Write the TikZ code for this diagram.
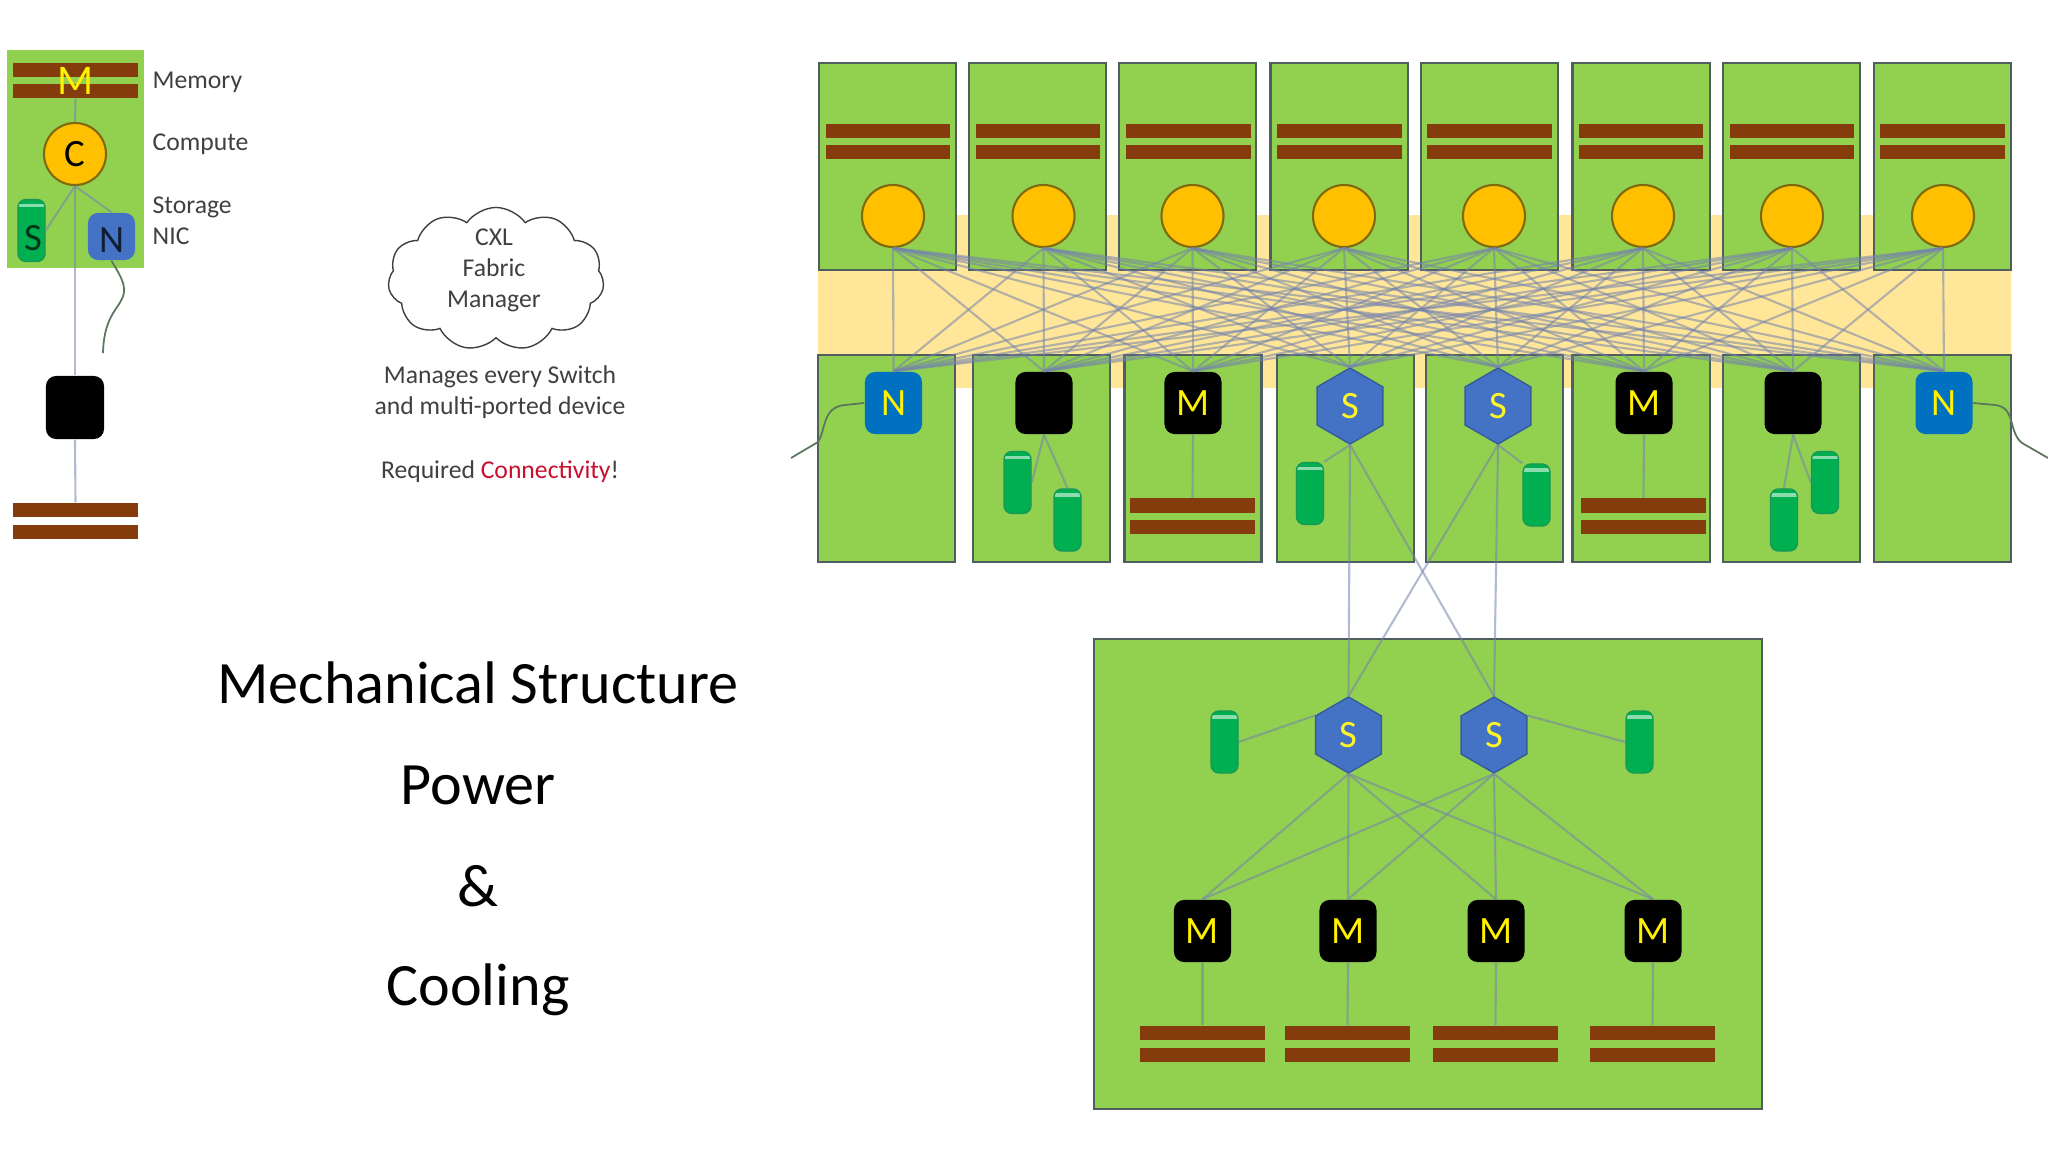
\documentclass[tikz,border=0pt]{standalone}
\usepackage{fontspec}
\setmainfont{Carlito}
\usetikzlibrary{shapes.geometric,shapes.symbols}
\definecolor{rackgreen}{HTML}{92D050}
\definecolor{rackedge}{HTML}{4F5F60}
\definecolor{fabricband}{HTML}{FFE699}
\definecolor{membrown}{HTML}{843C0C}
\definecolor{cpuorange}{HTML}{FFC000}
\definecolor{cpuedge}{HTML}{7F6A10}
\definecolor{switchblue}{HTML}{4472C4}
\definecolor{nicblue}{HTML}{0070C0}
\definecolor{diskgreen}{HTML}{00B050}
\definecolor{linkblue}{HTML}{7483AE}
\definecolor{textgray}{HTML}{404040}
\definecolor{connred}{HTML}{C8102E}

\begin{document}
\begin{tikzpicture}[
  x=0.01cm, y=-0.01cm,
  rack/.style={draw=rackedge, fill=rackgreen, line width=0.6pt, inner sep=0pt,
               minimum width=1.37cm, minimum height=2.07cm},
  membar/.style={fill=membrown, inner sep=0pt, minimum width=1.24cm, minimum height=0.14cm},
  cpu/.style={circle, draw=cpuedge, fill=cpuorange, line width=0.6pt, inner sep=0pt,
              minimum size=0.62cm, font=\fontsize{11}{11}\selectfont},
  chip/.style={draw=none, rounded corners=1mm, inner sep=0pt, minimum width=0.57cm,
               minimum height=0.62cm, text=yellow, font=\fontsize{11}{11}\selectfont},
  memchip/.style={chip, fill=black},
  nicchip/.style={chip, fill=nicblue},
  switch/.style={regular polygon, regular polygon sides=6, shape border rotate=30,
                 draw=switchblue!80!black, fill=switchblue, inner sep=0pt, minimum size=0.76cm,
                 text=yellow!85!white, font=\fontsize{11}{11}\selectfont},
  disk/.style={rounded corners=0.8mm, draw=diskgreen!70!rackedge, fill=diskgreen, inner sep=0pt,
               minimum width=0.27cm, minimum height=0.62cm,
               path picture={\draw[diskgreen!45!white, line width=0.9pt]
                 ([yshift=-0.06cm]path picture bounding box.north west) --
                 ([yshift=-0.06cm]path picture bounding box.north east);}},
  link/.style={draw=linkblue, line width=0.6pt, opacity=0.55},
  wire/.style={draw=rackedge!80!rackgreen, line width=0.5pt},
  note/.style={text=textgray, align=center, font=\fontsize{7.3}{8.8}\selectfont},
  legend/.style={text=textgray, anchor=west, inner sep=0pt, font=\fontsize{7.3}{8.8}\selectfont},
  heading/.style={text=black, font=\fontsize{17.1}{17.1}\selectfont}]
  \useasboundingbox (0,0) rectangle (2048,1152);

  % legend
  \node[fill=rackgreen, inner sep=0pt, minimum width=1.37cm, minimum height=2.17cm] (lbox) at (75.5,159) {};
  \node[membar] (lm1) at (75.5,70) {};
  \node[membar] (lm2) at (75.5,91) {};
  \node[cpu] (lc) at (75,154) {C};
  \node[disk] (ls) at (31.5,230.5) {};
  \node[chip, fill=switchblue, minimum width=0.47cm, minimum height=0.47cm] (ln) at (111.5,236.5) {};
  \node[memchip, minimum width=0.58cm, minimum height=0.63cm] (lb) at (75,407.5) {};
  \node[membar] (lr1) at (75.5,510) {};
  \node[membar] (lr2) at (75.5,532) {};
  \node[text=yellow, inner sep=0pt, font=\fontsize{12}{12}\selectfont] (lmt) at (75.5,81) {M};
  \node[text=black!70!diskgreen, inner sep=0pt, font=\fontsize{11}{11}\selectfont] (lst) at (33,238) {S};
  \node[text=black!75!switchblue, inner sep=0pt, font=\fontsize{11}{11}\selectfont] (lnt) at (112,240) {N};
  \draw[link] (lm2.south) -- (lc.north);
  \draw[link] (lc.south) -- (lb.north);
  \draw[link] (lb.south) -- (lr1.north);
  \draw[link] (lc.south) -- (ls.east);
  \draw[link] (lc.south) -- (ln.north);
  \coordinate (lw) at (103,353);
  \draw[wire] (ln.south) .. controls (118,272) and (125,282) .. (124,292)
     .. controls (122,308) and (104,312) .. (lw);
  \node[legend] (tm) at (152,82.5) {Memory};
  \node[legend] (tc) at (152,144.5) {Compute};
  \node[legend] (tt) at (152,207.5) {Storage};
  \node[legend] (tn) at (152,236) {NIC};

  % fabric manager
  \node[cloud, cloud puffs=11, cloud puff arc=110, cloud ignores aspect, draw=textgray, inner sep=0pt,
        minimum width=2.16cm, minimum height=1.43cm] (fm) at (496,279) {};
  \node[note] (ft) at (494,270) {CXL\\Fabric\\Manager};
  \node[note] (fd) at (500,392) {Manages every Switch\\and multi-ported device};
  \node[note] (fr) at (500,471.5) {Required \textcolor{connred}{Connectivity}!};

  % headings
  \node[heading] (h1) at (478,683) {Mechanical Structure};
  \node[heading] (h2) at (478,785) {Power};
  \node[heading] (h3) at (478,886) {\&};
  \node[heading] (h4) at (478,990) {Cooling};

  % fabric band
  \node[fill=fabricband, inner sep=0pt, minimum width=11.93cm, minimum height=1.73cm] (band) at (1414.5,301.5) {};

  % top row: memory + compute
  \foreach \n/\bx/\mx/\cx in {1/887.5/888/893, 2/1037.5/1038/1043.5, 3/1187.5/1188.5/1192.5,
                              4/1339/1339.5/1344, 5/1489.5/1489.5/1494, 6/1641/1641/1643,
                              7/1791.5/1792/1792, 8/1942.5/1942.5/1943} {
    \node[rack] (t\n) at (\bx,166.5) {};
    \node[membar] (tm\n a) at (\mx,131) {};
    \node[membar] (tm\n b) at (\mx,152) {};
    \node[cpu] (c\n) at (\cx,216) {};
  }

  % bottom row
  \foreach \n/\bx in {1/886.5, 2/1041.5, 3/1193, 4/1345.5, 5/1494.5, 6/1641, 7/1791.5, 8/1942.5} {
    \node[rack] (b\n) at (\bx,458.5) {};
  }
  \node[nicchip] (d1) at (893.5,403) {N};
  \node[memchip] (d2) at (1044,403) {};
  \node[memchip] (d3) at (1193,403) {M};
  \node[switch] (d4) at (1350,406) {S};
  \node[switch] (d5) at (1498,406) {S};
  \node[memchip] (d6) at (1644,403) {M};
  \node[memchip] (d7) at (1793,403) {};
  \node[nicchip] (d8) at (1944,403) {N};
  \node[disk] (k1) at (1017.5,482.5) {};
  \node[disk] (k2) at (1067.5,520) {};
  \node[disk] (k3) at (1310,493.5) {};
  \node[disk] (k4) at (1536.5,495) {};
  \node[disk] (k5) at (1784,520) {};
  \node[disk] (k6) at (1825,482.5) {};
  \node[membar] (bm3a) at (1192.5,505.5) {};
  \node[membar] (bm3b) at (1192.5,527) {};
  \node[membar] (bm6a) at (1643.5,505.5) {};
  \node[membar] (bm6b) at (1643.5,527) {};

  % fabric links
  \foreach \i in {1,...,8} {
    \foreach \j in {1,...,8} {
      \draw[link] (c\i.south) -- (d\j.north);
    }
  }
  \draw[link] (d2.south) -- (k1.east);
  \draw[link] (d2.south) -- (k2.north);
  \draw[link] (d4.south) -- (k3.north east);
  \draw[link] (d5.south) -- (k4.north west);
  \draw[link] (d7.south) -- (k5.north);
  \draw[link] (d7.south) -- (k6.west);
  \draw[link] (d3.south) -- (bm3a.north);
  \draw[link] (d6.south) -- (bm6a.north);
  \coordinate (wl) at (791,458);
  \coordinate (wr) at (2048,458);
  \draw[wire] (d1.west) -- (845,405) .. controls (822,407) and (826,430) .. (818,442) -- (wl);
  \draw[wire] (d8.east) -- (1995,405) .. controls (2016,407) and (2008,432) .. (2022,443) -- (wr);

  % memory shelf
  \node[rack, minimum width=6.68cm, minimum height=4.70cm] (shelf) at (1428,874) {};
  \node[switch] (s1) at (1348.5,735) {S};
  \node[switch] (s2) at (1494,735) {S};
  \node[disk] (k7) at (1224.5,742) {};
  \node[disk] (k8) at (1639.5,742) {};
  \foreach \n/\x/\bx in {1/1202.5/1202.5, 2/1348/1347.5, 3/1496/1495.5, 4/1653/1652.5} {
    \node[memchip] (m\n) at (\x,931) {M};
    \node[membar] (sm\n a) at (\bx,1033) {};
    \node[membar] (sm\n b) at (\bx,1055) {};
    \draw[link] (m\n.south) -- (sm\n a.north);
    \draw[link] (s1.south) -- (m\n.north);
    \draw[link] (s2.south) -- (m\n.north);
  }
  \draw[link] (s1.150) -- (k7.east);
  \draw[link] (s2.30) -- (k8.west);
  \draw[link] (d4.south) -- (s1.north);
  \draw[link] (d4.south) -- (s2.north);
  \draw[link] (d5.south) -- (s1.north);
  \draw[link] (d5.south) -- (s2.north);
\end{tikzpicture}
\end{document}
